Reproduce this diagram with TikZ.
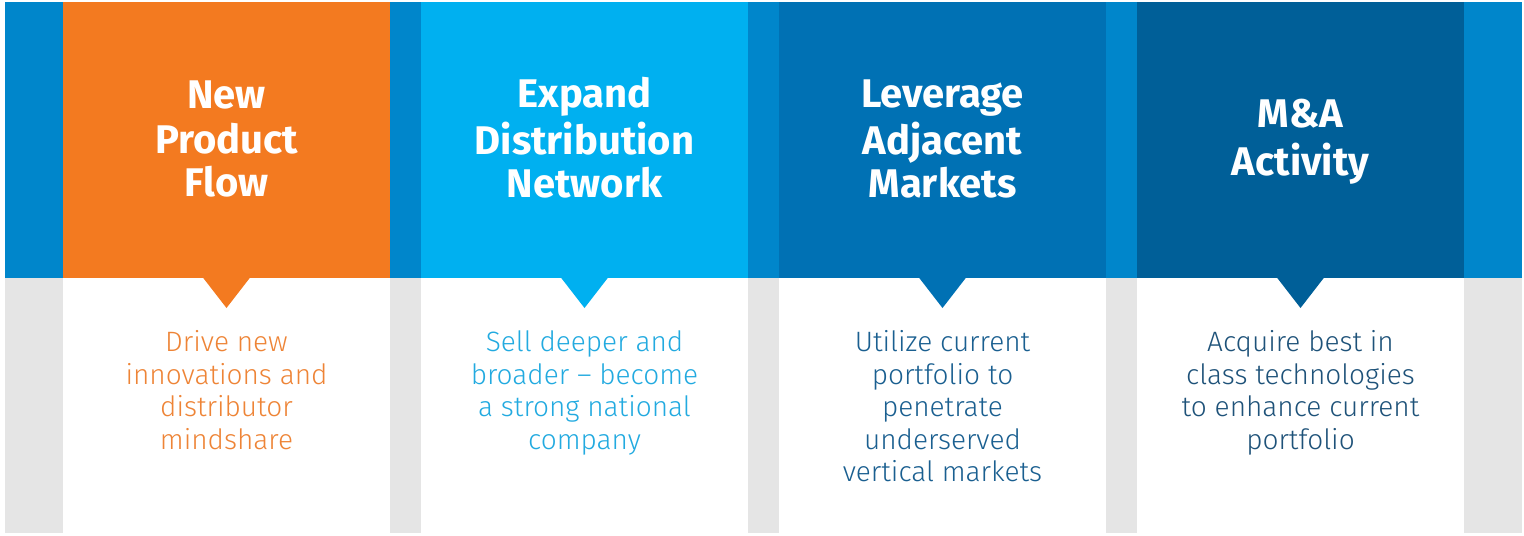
\documentclass[tikz,border=0pt]{standalone}
\usepackage{fontspec}
\setmainfont{Fira Sans}
\newfontfamily\bodyfont{Fira Sans Light}
\definecolor{stripblue}{HTML}{0086CB}
\definecolor{greybg}{HTML}{E5E5E5}
\definecolor{corange}{HTML}{F37A20}
\definecolor{clight}{HTML}{00B0F0}
\definecolor{cmid}{HTML}{0071B4}
\definecolor{cdark}{HTML}{005F98}
\definecolor{torange}{HTML}{EE8436}
\definecolor{tlight}{HTML}{22AAE0}
\definecolor{tmid}{HTML}{1A5F90}
\definecolor{tdark}{HTML}{1E5279}
\tikzset{
  headtext/.style={text=white, align=center, inner sep=0pt,
    font=\bfseries\fontsize{20}{21.5}\selectfont},
  bodytext/.style={align=center, inner sep=0pt,
    font=\bodyfont\fontsize{14}{16.25}\selectfont},
}
\begin{document}
\begin{tikzpicture}[x=0.5pt,y=-0.5pt]
\useasboundingbox (0,0) rectangle (1524,535);
% backgrounds
\fill[greybg] (5,278) rectangle (1522,533);
\fill[stripblue] (5,2) rectangle (1522,278);
% columns
\foreach \x/\c/\n in {63/corange/a,421/clight/b,779/cmid/c,1137/cdark/d}{
  \fill[\c] (\x,2) rectangle ++(327,276);
  \fill[white] (\x,278) rectangle ++(327,255);
  \fill[\c] (\x+139.5,277) -- ++(48,0) -- ++(-24,31) -- cycle;
}
% headings
\node[headtext] (ha) at (226.5,144) {\strut New\\Product\\Flow\strut};
\node[headtext] (hb) at (584.5,144) {\strut Expand\\Distribution\\Network\strut};
\node[headtext] (hc) at (942.5,144) {\strut Leverage\\Adjacent\\Markets\strut};
\node[headtext] (hd) at (1300.5,143) {\strut M\&A\\Activity\strut};
% bodies
\node[bodytext, text=torange] (ba) at (226.5,394) {\strut Drive new\\innovations and\\distributor\\mindshare\strut};
\node[bodytext, text=tlight] (bb) at (584.5,394) {\strut Sell deeper and\\broader – become\\a strong national\\company\strut};
\node[bodytext, text=tmid] (bc) at (942.5,410) {\strut Utilize current\\portfolio to\\penetrate\\underserved\\vertical markets\strut};
\node[bodytext, text=tdark] (bd) at (1300.5,394) {\strut Acquire best in\\class technologies\\to enhance current\\portfolio\strut};
\end{tikzpicture}
\end{document}
